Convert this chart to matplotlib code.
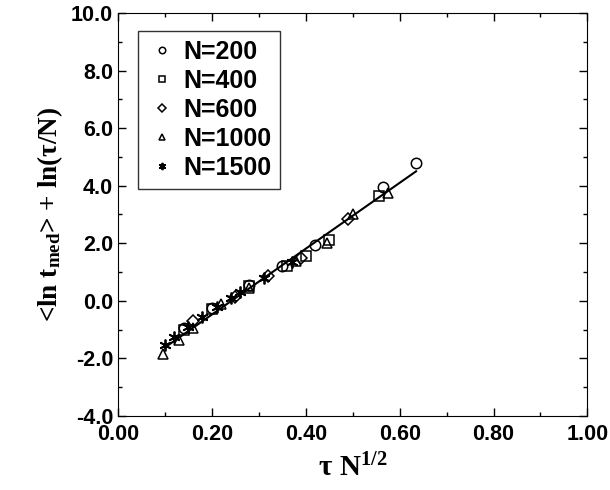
import matplotlib
matplotlib.use("Agg")
import matplotlib.pyplot as plt
from matplotlib.ticker import MultipleLocator, FormatStrFormatter

plt.rcParams['mathtext.fontset'] = 'custom'
plt.rcParams['mathtext.rm'] = 'Liberation Serif:bold'
plt.rcParams['mathtext.it'] = 'Liberation Serif:bold'
plt.rcParams['mathtext.bf'] = 'Liberation Serif:bold'

# data
n200_x = [0.14, 0.20, 0.28, 0.35, 0.42, 0.565, 0.635]
n200_y = [-0.95, -0.25, 0.55, 1.20, 1.95, 3.95, 4.80]

n400_x = [0.14, 0.20, 0.28, 0.36, 0.40, 0.45, 0.555]
n400_y = [-1.00, -0.30, 0.50, 1.20, 1.55, 2.10, 3.65]

n600_x = [0.16, 0.25, 0.32, 0.39, 0.49]
n600_y = [-0.70, 0.15, 0.85, 1.50, 2.85]

n1000_x = [0.095, 0.13, 0.16, 0.22, 0.28, 0.38, 0.445, 0.50, 0.575]
n1000_y = [-1.85, -1.35, -0.95, -0.10, 0.45, 1.40, 2.00, 3.00, 3.75]

n1500_x = [0.10, 0.12, 0.15, 0.18, 0.21, 0.24, 0.26, 0.31, 0.37]
n1500_y = [-1.55, -1.25, -0.90, -0.55, -0.20, 0.10, 0.30, 0.80, 1.35]

fit_x = [0.10, 0.635]
fit_y = [-1.62, 4.50]

series = [
    (n200_x, n200_y, 'o', 'N=200'),
    (n400_x, n400_y, 's', 'N=400'),
    (n600_x, n600_y, 'D', 'N=600'),
    (n1000_x, n1000_y, '^', 'N=1000'),
    (n1500_x, n1500_y, '*', 'N=1500'),
]

fig = plt.figure(figsize=(6.1, 4.9), dpi=100)
ax = fig.add_axes([0.1934, 0.151, 0.7696, 0.8225])

ax.plot(fit_x, fit_y, color='black', lw=1.5, zorder=1)
for x, y, m, lab in series:
    if m == '*':
        ax.plot(x, y, ls='none', marker=(6, 2, 0), ms=8.5, mew=1.3,
                color='black', label=lab, zorder=2)
    else:
        ms = 7.5 if m != 'D' else 6.5
        ax.plot(x, y, ls='none', marker=m, ms=ms, mfc='none', mec='black',
                mew=1.1, label=lab, zorder=2)

ax.set_xlim(0, 1)
ax.set_ylim(-4, 10)
ax.xaxis.set_major_locator(MultipleLocator(0.2))
ax.xaxis.set_minor_locator(MultipleLocator(0.1))
ax.yaxis.set_major_locator(MultipleLocator(2))
ax.yaxis.set_minor_locator(MultipleLocator(1))
ax.xaxis.set_major_formatter(FormatStrFormatter('%.2f'))
ax.yaxis.set_major_formatter(FormatStrFormatter('%.1f'))
ax.tick_params(which='both', direction='in', top=True, right=True, width=1)
ax.tick_params(which='major', length=6)
ax.tick_params(which='minor', length=3)
ax.tick_params(axis='x', pad=6)
for lbl in ax.get_xticklabels() + ax.get_yticklabels():
    lbl.set_fontfamily('Liberation Sans')
    lbl.set_fontweight('bold')
    lbl.set_fontsize(15.5)

ax.set_xlabel(r'$\mathrm{\tau\ N^{1/2}}$', fontsize=21, labelpad=6)
ax.set_ylabel(r'<ln t$_{\rm med}$> + ln($\tau$/N)', fontsize=19.5,
              family='Liberation Serif', weight='bold', labelpad=4)

leg = ax.legend(loc='upper left', bbox_to_anchor=(0.043, 0.955),
                borderaxespad=0,
                prop={'family': 'Liberation Sans', 'weight': 'bold', 'size': 18},
                frameon=True, fancybox=False, edgecolor='black',
                handletextpad=0.25, handlelength=1.2, borderpad=0.35,
                labelspacing=0.2, markerscale=0.62)
leg.get_frame().set_linewidth(1.0)

fig.savefig('out.png', dpi=100)
